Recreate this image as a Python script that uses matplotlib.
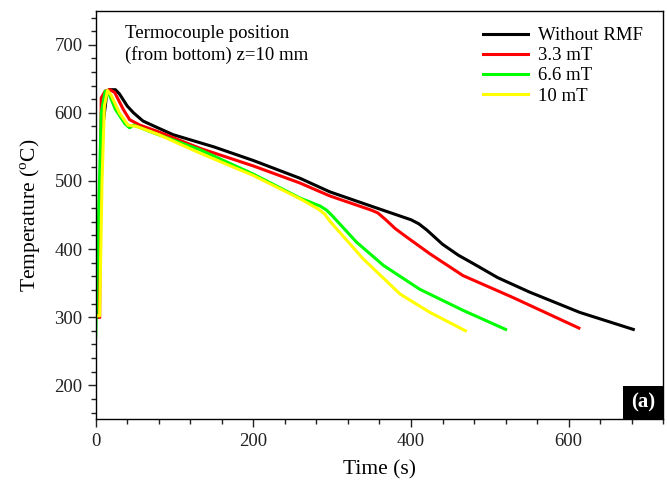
import matplotlib
matplotlib.use("Agg")
import matplotlib.pyplot as plt
from matplotlib.patches import Rectangle
from matplotlib.ticker import MultipleLocator

plt.rcParams['font.family'] = ['Liberation Serif', 'DejaVu Serif']
plt.rcParams['mathtext.fontset'] = 'custom'
plt.rcParams['mathtext.rm'] = 'Liberation Serif'

# 読み取りデータ
t_black = [3, 6, 9, 14, 17, 25, 30, 40, 48, 60, 75, 98, 150, 200, 259, 297, 352,
           400, 410, 420, 440, 460, 480, 510, 550, 614, 682]
T_black = [300, 450, 580, 628, 634, 634, 628, 610, 600, 588, 580, 568, 550, 530, 504, 484,
           462, 443, 437, 428, 407, 391, 378, 358, 337, 307, 282]

t_red = [5, 7, 12, 18, 24, 35, 43, 56, 80, 132, 200, 259, 297, 350, 358, 368, 380, 394,
         424, 466, 529, 613]
T_red = [300, 622, 632, 634, 630, 605, 590, 582, 572, 548, 522, 497, 478, 457, 453,
         443, 430, 418, 393, 361, 329, 284]

t_green = [0, 3, 7, 12, 16, 25, 37, 43, 48, 70, 132, 200, 259, 285, 293, 300, 331, 365,
           411, 466, 520]
T_green = [270, 420, 600, 632, 630, 605, 584, 578, 582, 572, 546, 510, 475, 463, 457,
           449, 410, 376, 341, 310, 282]

t_yellow = [0, 5, 8, 11, 15, 20, 30, 41, 52, 80, 132, 200, 259, 282, 290, 297, 339, 386,
            424, 469]
T_yellow = [302, 302, 500, 610, 633, 625, 600, 582, 580, 568, 541, 508, 474, 459, 452,
            441, 386, 334, 307, 280]

series = [(t_black, T_black, 'black', 'Without RMF'),
          (t_red, T_red, '#ff0000', '3.3 mT'),
          (t_green, T_green, '#00ff00', '6.6 mT'),
          (t_yellow, T_yellow, '#ffff00', '10 mT')]

fig = plt.figure(figsize=(6.67, 4.95), dpi=100)
ax = fig.add_axes([0.1435, 0.1529, 0.8509, 0.8255])

# 描画順: 黒が一番下
for t, T, c, lab in series:
    ax.plot(t, T, color=c, lw=2.2, label=lab, solid_joinstyle='round')

ax.set_xlim(0, 720)
ax.set_ylim(150, 750)
ax.xaxis.set_major_locator(MultipleLocator(200))
ax.xaxis.set_minor_locator(MultipleLocator(40))
ax.yaxis.set_major_locator(MultipleLocator(100))
ax.yaxis.set_minor_locator(MultipleLocator(20))
ax.set_yticks([200, 300, 400, 500, 600, 700])
ax.tick_params(which='major', direction='out', length=6, width=1, labelsize=13.5,
               colors='#222222')
ax.tick_params(which='minor', direction='out', length=3.5, width=1, colors='#222222')
for s in ax.spines.values():
    s.set_linewidth(1)

ax.set_xlabel("Time (s)", fontsize=15.5, labelpad=8)
ax.set_ylabel("Temperature ($^{\\rm o}$C)", fontsize=15.5, labelpad=8)

ax.text(0.052, 0.964, "Termocouple position\n(from bottom) z=10 mm",
        transform=ax.transAxes, ha='left', va='top', fontsize=13.5, linespacing=1.25)

ax.legend(loc='upper left', bbox_to_anchor=(0.682, 0.960), frameon=False,
          fontsize=13.5, handlelength=2.4, handletextpad=0.55, labelspacing=0.16,
          borderpad=0, borderaxespad=0)

# (a) ラベル
ax.add_patch(Rectangle((1 - 0.0715, 0), 0.0715, 0.0815, transform=ax.transAxes,
                       facecolor='black', edgecolor='none', zorder=5, clip_on=False))
ax.text(1 - 0.0715 / 2, 0.0815 / 2, "(a)", transform=ax.transAxes, ha='center',
        va='center', color='white', fontsize=15, fontweight='bold', zorder=6)

fig.savefig("out.png", dpi=100)
